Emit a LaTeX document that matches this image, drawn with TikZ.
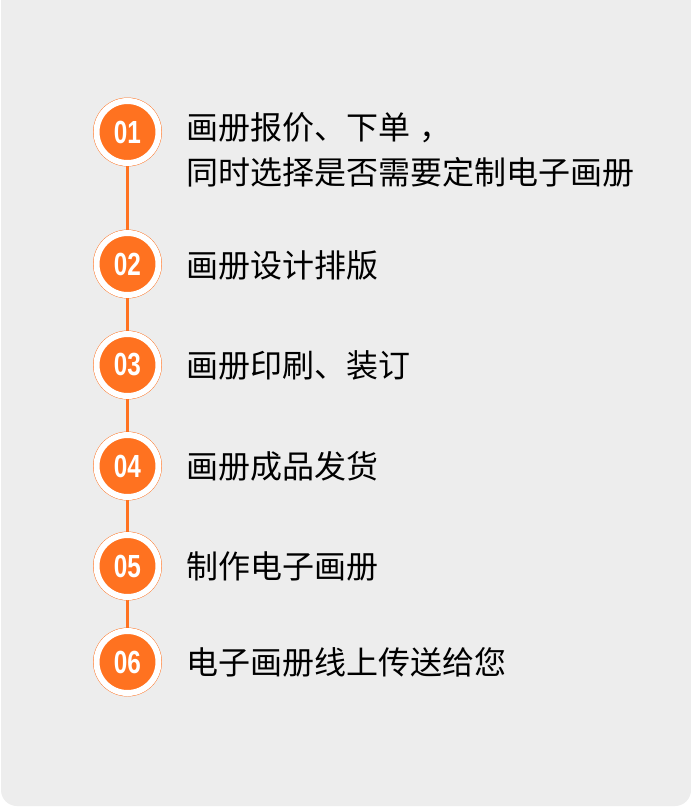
\documentclass[tikz,border=0pt]{standalone}
\usepackage{fontspec}
\setmainfont{Liberation Sans}
\newfontfamily\cjk{Noto Sans CJK SC}
\definecolor{bggray}{HTML}{EDEDED}
\definecolor{orng}{HTML}{FF7220}
\begin{document}
\begin{tikzpicture}[x=1pt,y=-1pt,
  stepnum/.style={circle,fill=orng,draw=white,line width=6pt,minimum size=62pt,inner sep=0pt,
    text=white,font=\fontsize{32}{32}\selectfont\bfseries},
  ring/.style={circle,draw=orng,line width=0.9pt,minimum size=68pt,inner sep=0pt},
  label/.style={anchor=west,inner sep=0pt,align=left,font=\cjk\fontsize{32}{45}\selectfont,text=black},
  link/.style={draw=orng,line width=3pt}]
\useasboundingbox (0,0) rectangle (691,807);
\fill[white] (0,0) rectangle (691,807);
\fill[bggray,rounded corners=16pt] (1,-30) rectangle (691,806);
\foreach \n/\y in {1/132,2/264,3/365,4/466,5/566,6/662}{
  \node[ring] (r\n) at (127.5,\y) {};
}
\draw[link] (r1.south) -- (r2.north);
\draw[link] (r2.south) -- (r3.north);
\draw[link] (r3.south) -- (r4.north);
\draw[link] (r4.south) -- (r5.north);
\draw[link] (r5.south) -- (r6.north);
\foreach \n/\y in {1/132,2/264,3/365,4/466,5/566,6/662}{
  \node[stepnum] (c\n) at (127.5,\y) {\scalebox{0.76}[1]{0\n}};
}
\node[label] (t1) at (186,150) {画册报价、下单\hspace{9pt}，\\同时选择是否需要定制电子画册};
\node[label] (t2) at (186,265) {画册设计排版};
\node[label] (t3) at (186,365) {画册印刷、装订};
\node[label] (t4) at (186,466) {画册成品发货};
\node[label] (t5) at (186,566) {制作电子画册};
\node[label] (t6) at (186,662) {电子画册线上传送给您};
\end{tikzpicture}
\end{document}
